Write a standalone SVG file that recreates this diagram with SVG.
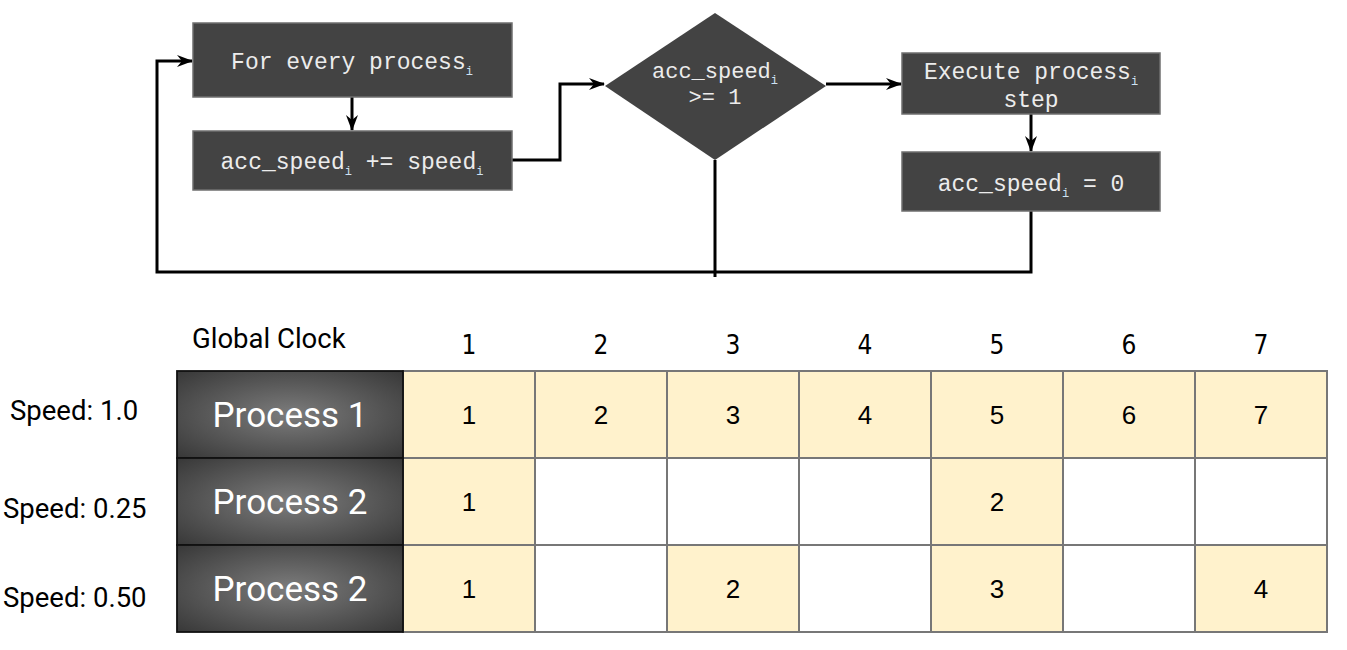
<svg xmlns="http://www.w3.org/2000/svg" width="1347" height="650" viewBox="0 0 1347 650">
<style>
.box{fill:#434343;stroke:#6f6f6f;stroke-width:1.5}
.mono{font-family:"Liberation Mono","Courier New",monospace;font-size:23px;fill:#ececec;text-anchor:middle}
.sub{font-size:12px;fill:#cfe2f3}
.conn{fill:none;stroke:#000;stroke-width:3}
.proc{fill:url(#rg);stroke:#111;stroke-width:1.8}
.ptxt{font-family:Roboto,"Liberation Sans",sans-serif;font-size:35px;fill:#fff;text-anchor:middle}
.cellY{fill:#fff2cc;stroke:#777;stroke-width:2}
.cellW{fill:#fff;stroke:#777;stroke-width:2}
.num{font-family:"Liberation Sans",Arial,sans-serif;font-size:26px;fill:#000;text-anchor:middle}
.hdr{font-family:"Liberation Sans Narrow","DejaVu Sans Condensed","Liberation Sans",sans-serif;font-stretch:condensed;font-size:26px;fill:#000;text-anchor:middle}
.lbl{font-family:Roboto,"Liberation Sans",sans-serif;font-size:27.5px;fill:#000}
</style>
<defs>
<marker id="arr" markerWidth="16" markerHeight="14" viewBox="0 0 16 14" refX="15" refY="7" orient="auto" markerUnits="userSpaceOnUse">
<path d="M0,1 L16,7 L0,13 L5,7 z" fill="#000"/>
</marker>
<radialGradient id="rg" cx="0.5" cy="0.5" r="0.75">
<stop offset="0" stop-color="#7c7c7c"/>
<stop offset="1" stop-color="#333333"/>
</radialGradient>
</defs>

<g id="connectors">
<path class="conn" d="M352,97 V130" marker-end="url(#arr)"/>
<path class="conn" d="M512,160 H560 V84 H604" marker-end="url(#arr)"/>
<path class="conn" d="M826,84 H901" marker-end="url(#arr)"/>
<path class="conn" d="M1031,114 V151" marker-end="url(#arr)"/>
<path class="conn" d="M1031,211 V272 H157 V61 H192" marker-end="url(#arr)"/>
<path class="conn" d="M715,160 V277"/>
</g>

<g id="node-for-every">
<rect class="box" x="193" y="23" width="319" height="74"/>
<text class="mono" x="352" y="69">For every process<tspan class="sub" dy="6">i</tspan></text>
</g>
<g id="node-acc-add">
<rect class="box" x="193" y="131" width="319" height="59"/>
<text class="mono" x="352" y="169">acc_speed<tspan class="sub" dy="6">i</tspan><tspan dy="-6"> += speed</tspan><tspan class="sub" dy="6">i</tspan></text>
</g>
<g id="node-decision">
<polygon points="715,13 826,86 715,160 605,86" fill="#434343"/>
<text class="mono" x="715" y="78" style="font-size:22px">acc_speed<tspan class="sub" dy="6">i</tspan></text>
<text class="mono" x="715" y="104" style="font-size:22px">&gt;= 1</text>
</g>
<g id="node-execute">
<rect class="box" x="902" y="53" width="258" height="61"/>
<text class="mono" x="1031" y="79">Execute process<tspan class="sub" dy="6">i</tspan></text>
<text class="mono" x="1031" y="107">step</text>
</g>
<g id="node-reset">
<rect class="box" x="902" y="152" width="258" height="59"/>
<text class="mono" x="1031" y="191">acc_speed<tspan class="sub" dy="6">i</tspan><tspan dy="-6"> = 0</tspan></text>
</g>

<g id="table">
<text class="lbl" x="192" y="348">Global Clock</text>
<text class="hdr" x="469" y="354">1</text>
<text class="hdr" x="601" y="354">2</text>
<text class="hdr" x="733" y="354">3</text>
<text class="hdr" x="865" y="354">4</text>
<text class="hdr" x="997" y="354">5</text>
<text class="hdr" x="1129" y="354">6</text>
<text class="hdr" x="1261" y="354">7</text>

<text class="lbl" x="10" y="420">Speed: 1.0</text>
<text class="lbl" x="3" y="518">Speed: 0.25</text>
<text class="lbl" x="3" y="607">Speed: 0.50</text>

<g id="row1">
<rect class="cellY" x="403" y="371" width="132" height="87"/>
<rect class="cellY" x="535" y="371" width="132" height="87"/>
<rect class="cellY" x="667" y="371" width="132" height="87"/>
<rect class="cellY" x="799" y="371" width="132" height="87"/>
<rect class="cellY" x="931" y="371" width="132" height="87"/>
<rect class="cellY" x="1063" y="371" width="132" height="87"/>
<rect class="cellY" x="1195" y="371" width="132" height="87"/>
<text class="num" x="469" y="424">1</text>
<text class="num" x="601" y="424">2</text>
<text class="num" x="733" y="424">3</text>
<text class="num" x="865" y="424">4</text>
<text class="num" x="997" y="424">5</text>
<text class="num" x="1129" y="424">6</text>
<text class="num" x="1261" y="424">7</text>
</g>
<g id="row2">
<rect class="cellY" x="403" y="458" width="132" height="87"/>
<rect class="cellW" x="535" y="458" width="132" height="87"/>
<rect class="cellW" x="667" y="458" width="132" height="87"/>
<rect class="cellW" x="799" y="458" width="132" height="87"/>
<rect class="cellY" x="931" y="458" width="132" height="87"/>
<rect class="cellW" x="1063" y="458" width="132" height="87"/>
<rect class="cellW" x="1195" y="458" width="132" height="87"/>
<text class="num" x="469" y="511">1</text>
<text class="num" x="997" y="511">2</text>
</g>
<g id="row3">
<rect class="cellY" x="403" y="545" width="132" height="87"/>
<rect class="cellW" x="535" y="545" width="132" height="87"/>
<rect class="cellY" x="667" y="545" width="132" height="87"/>
<rect class="cellW" x="799" y="545" width="132" height="87"/>
<rect class="cellY" x="931" y="545" width="132" height="87"/>
<rect class="cellW" x="1063" y="545" width="132" height="87"/>
<rect class="cellY" x="1195" y="545" width="132" height="87"/>
<text class="num" x="469" y="598">1</text>
<text class="num" x="733" y="598">2</text>
<text class="num" x="997" y="598">3</text>
<text class="num" x="1261" y="598">4</text>
</g>

<g id="process-1">
<rect class="proc" x="177" y="371" width="226" height="87"/>
<text class="ptxt" x="290" y="427">Process 1</text>
</g>
<g id="process-2a">
<rect class="proc" x="177" y="458" width="226" height="87"/>
<text class="ptxt" x="290" y="514">Process 2</text>
</g>
<g id="process-2b">
<rect class="proc" x="177" y="545" width="226" height="87"/>
<text class="ptxt" x="290" y="601">Process 2</text>
</g>
</g>
</svg>
